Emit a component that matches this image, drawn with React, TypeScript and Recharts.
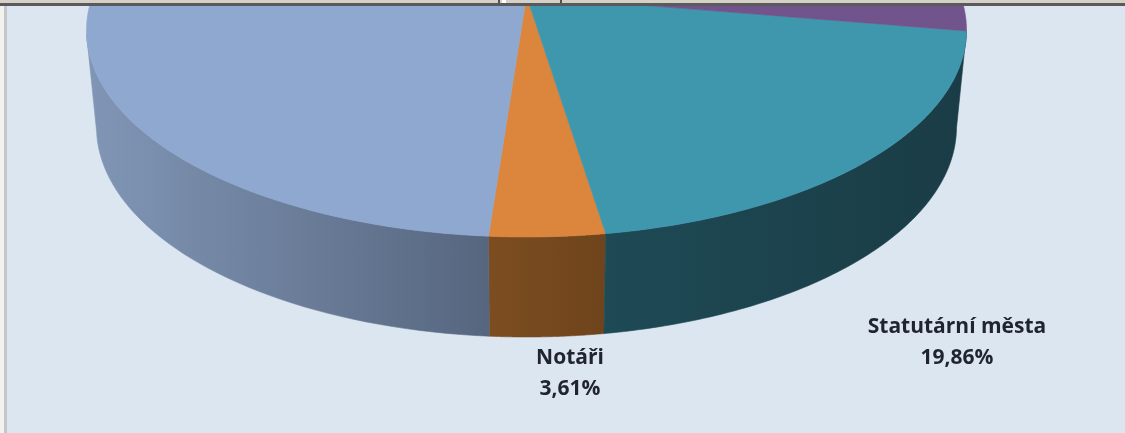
import { PieChart, Pie } from 'recharts';

// values; the last two labels are cut off in the source
const sliceNames = ['Notáři', 'Statutární města', '', ''];
const sliceValues = [3.61, 19.86, 36.53, 40];
const topColors = ['#dc853c', '#3f97ae', '#70548b', '#8fa8cf'];
const wallLeftColors = ['#7c4d20', '#1e4a55', '#3c2c4a', '#8196b6'];
const wallRightColors = ['#6f441c', '#1a3c46', '#3c2c4a', '#56667f'];

const tableData = sliceNames.map((name, i) => ({
  name,
  value: sliceValues[i],
  fill: topColors[i],
  wallLeft: wallLeftColors[i],
  wallRight: wallRightColors[i],
}));

const WIDTH = 1125;
const HEIGHT = 433;

// the rim ellipse is not centred on the pie's apex because of the perspective
const APEX_X = 526.5;
const APEX_Y = -4;
const RIM_X = 526.5;
const RIM_Y = 30;
const RIM_RX = 440;
const RIM_RY = 207;
const BASE_Y = 127;
const BASE_RX = 430;
const BASE_RY = 210;
const TILT = (RIM_Y - APEX_Y) / RIM_RY;

const labelPositions: Record<string, { x: number; y: number }> = {
  'Notáři': { x: 570, y: 364 },
  'Statutární města': { x: 957, y: 333 },
};

// projects a pie angle on to the unit rim, phi counted from the bottom towards the right
function project(mathAngle: number) {
  const phi = ((mathAngle + 90) * Math.PI) / 180;
  const d = 1 - TILT * Math.cos(phi);
  return {
    x: (Math.sin(phi) * Math.sqrt(1 - TILT * TILT)) / d,
    y: (Math.cos(phi) - TILT) / d,
  };
}

function SliceShape(props: any) {
  const { startAngle, endAngle, fill, wallLeft, wallRight, payload } = props;
  const left = wallLeft ?? payload?.wallLeft;
  const right = wallRight ?? payload?.wallRight;
  const steps = 90;
  const rim = [];
  for (let i = 0; i <= steps; i++) {
    rim.push(project(startAngle + ((endAngle - startAngle) * i) / steps));
  }
  const toTop = (p: { x: number; y: number }) => `${RIM_X + RIM_RX * p.x},${RIM_Y + RIM_RY * p.y}`;
  const toBase = (p: { x: number; y: number }) => `${RIM_X + BASE_RX * p.x},${BASE_Y + BASE_RY * p.y}`;

  const top = `${APEX_X},${APEX_Y} ${rim.map(toTop).join(' ')}`;
  const front = rim.filter((p) => p.y >= 0);
  const id = `wall-${Math.round(startAngle * 10)}`;
  const xs = front.map((p) => RIM_X + RIM_RX * p.x);

  return (
    <g>
      {front.length > 1 && (
        <>
          <defs>
            <linearGradient
              id={id}
              gradientUnits="userSpaceOnUse"
              x1={Math.min(...xs)}
              x2={Math.max(...xs)}
              y1={0}
              y2={0}
            >
              <stop offset="0%" stopColor={left} />
              <stop offset="100%" stopColor={right} />
            </linearGradient>
          </defs>
          <polygon
            points={`${front.map(toTop).join(' ')} ${[...front].reverse().map(toBase).join(' ')}`}
            fill={`url(#${id})`}
            stroke={`url(#${id})`}
            strokeWidth={0.6}
          />
        </>
      )}
      <polygon points={top} fill={fill} stroke={fill} strokeWidth={0.6} />
    </g>
  );
}

function renderLabel(props: any) {
  const pos = labelPositions[props.name];
  if (!pos) return null;
  const percent = `${props.value.toFixed(2).replace('.', ',')}%`;
  return (
    <text
      x={pos.x}
      y={pos.y}
      textAnchor="middle"
      fontFamily="'Open Sans', sans-serif"
      fontWeight={700}
      fontSize={21}
      fill="#1f2430"
    >
      <tspan x={pos.x}>{props.name}</tspan>
      <tspan x={pos.x} dy={31}>
        {percent}
      </tspan>
    </text>
  );
}

export default function App() {
  return (
    <div
      style={{
        position: 'absolute',
        left: 0,
        top: 0,
        width: WIDTH,
        height: HEIGHT,
        overflow: 'hidden',
        background: '#dce6f1',
      }}
    >
      <div style={{ filter: 'blur(0.7px)' }}>
        <PieChart width={WIDTH} height={HEIGHT} margin={{ top: 0, right: 0, bottom: 0, left: 0 }}>
          <Pie
            data={tableData}
            dataKey="value"
            nameKey="name"
            cx={APEX_X}
            cy={APEX_Y}
            outerRadius={RIM_RX}
            startAngle={-94.2}
            endAngle={265.8}
            stroke="none"
            shape={SliceShape}
            label={renderLabel}
            labelLine={false}
            isAnimationActive={false}
          />
        </PieChart>
      </div>
      {/* window frame left over from the screenshot */}
      <div style={{ position: 'absolute', left: 0, top: 0, width: 4, height: HEIGHT, background: '#f2f2ee' }} />
      <div style={{ position: 'absolute', left: 4, top: 0, width: 3, height: HEIGHT, background: '#c4c8c6' }} />
      <div style={{ position: 'absolute', left: 0, top: 0, width: WIDTH, height: 3, background: '#d6d1c6' }} />
      <div style={{ position: 'absolute', left: 0, top: 3, width: WIDTH, height: 3, background: '#5a5a5c' }} />
      <div style={{ position: 'absolute', left: 498, top: 0, width: 2, height: 3, background: '#55524c' }} />
      <div style={{ position: 'absolute', left: 502, top: 0, width: 4, height: 3, background: '#ffffff' }} />
      <div style={{ position: 'absolute', left: 560, top: 0, width: 2, height: 3, background: '#55524c' }} />
    </div>
  );
}
